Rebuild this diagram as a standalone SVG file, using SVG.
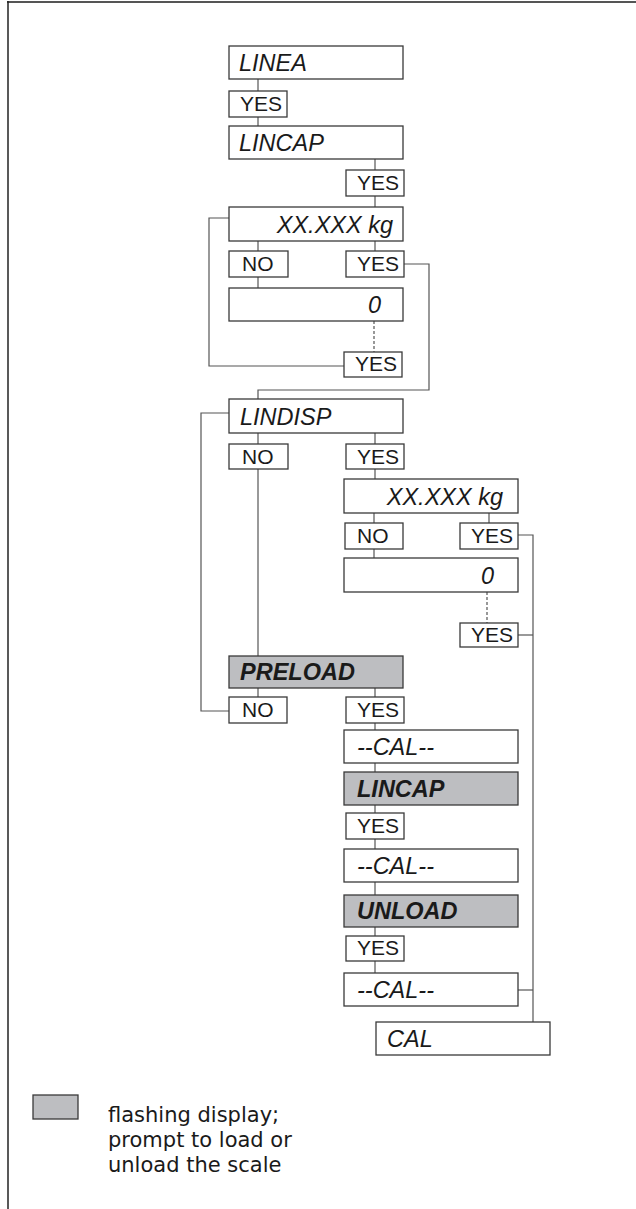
<svg xmlns="http://www.w3.org/2000/svg" width="636" height="1209" viewBox="0 0 636 1209">
<style>
.box{fill:#fff;stroke:#3a3a3a;stroke-width:1.3}
.flash{fill:#bdbec1;stroke:#3a3a3a;stroke-width:1.3}
.lbl{font-family:"Liberation Sans",Arial,sans-serif;font-style:italic;font-size:23.5px;fill:#1a1a1a}
.blbl{font-family:"Liberation Sans",Arial,sans-serif;font-style:italic;font-weight:bold;font-size:23.5px;fill:#1a1a1a}
.yn{font-family:"Liberation Sans",Arial,sans-serif;font-size:21px;fill:#1a1a1a}
.leg{font-family:"DejaVu Sans","Liberation Sans",sans-serif;font-size:21px;fill:#1a1a1a}
.c{fill:none;stroke:#555;stroke-width:1.2}
.d{fill:none;stroke:#555;stroke-width:1.2;stroke-dasharray:3 2}
</style>
<g id="frame">
<line x1="7" y1="2" x2="636" y2="2" stroke="#555" stroke-width="2"/>
<line x1="8" y1="1" x2="8" y2="1209" stroke="#222" stroke-width="1.5"/>
</g>
<g id="connectors">
<line class="c" x1="258" y1="79" x2="258" y2="91"/>
<line class="c" x1="258" y1="117" x2="258" y2="126"/>
<line class="c" x1="375" y1="159" x2="375" y2="170"/>
<line class="c" x1="375" y1="196" x2="375" y2="207"/>
<line class="c" x1="258" y1="241" x2="258" y2="251"/>
<line class="c" x1="375" y1="241" x2="375" y2="251"/>
<line class="c" x1="258" y1="277" x2="258" y2="288"/>
<line class="d" x1="374" y1="321" x2="374" y2="352"/>
<polyline class="c" points="229,218 209,218 209,366 344,366"/>
<polyline class="c" points="404,264 429,264 429,390 258,390 258,399"/>
<line class="c" x1="258" y1="433" x2="258" y2="444"/>
<line class="c" x1="375" y1="433" x2="375" y2="444"/>
<line class="c" x1="258" y1="469" x2="258" y2="656"/>
<line class="c" x1="375" y1="469" x2="375" y2="479"/>
<polyline class="c" points="229,413 201,413 201,711 229,711"/>
<line class="c" x1="374" y1="513" x2="374" y2="523"/>
<line class="c" x1="489" y1="513" x2="489" y2="523"/>
<line class="c" x1="374" y1="549" x2="374" y2="558"/>
<line class="d" x1="487" y1="592" x2="487" y2="623"/>
<polyline class="c" points="518,535 533,535 533,1022"/>
<line class="c" x1="518" y1="635" x2="533" y2="635"/>
<line class="c" x1="518" y1="990" x2="533" y2="990"/>
<line class="c" x1="258" y1="688" x2="258" y2="697"/>
<line class="c" x1="375" y1="688" x2="375" y2="697"/>
<line class="c" x1="375" y1="723" x2="375" y2="730"/>
<line class="c" x1="375" y1="763" x2="375" y2="772"/>
<line class="c" x1="375" y1="805" x2="375" y2="813"/>
<line class="c" x1="375" y1="839" x2="375" y2="849"/>
<line class="c" x1="375" y1="882" x2="375" y2="895"/>
<line class="c" x1="375" y1="927" x2="375" y2="936"/>
<line class="c" x1="375" y1="961" x2="375" y2="973"/>
</g>
<g id="n-linea"><rect class="box" x="229" y="46" width="174" height="33"/><text class="lbl" x="239" y="71">LINEA</text></g>
<g id="n-yes1"><rect class="box" x="229" y="91" width="58" height="26"/><text class="yn" x="240" y="111">YES</text></g>
<g id="n-lincap"><rect class="box" x="229" y="126" width="174" height="33"/><text class="lbl" x="239" y="151">LINCAP</text></g>
<g id="n-yes2"><rect class="box" x="346" y="170" width="58" height="26"/><text class="yn" x="357" y="190">YES</text></g>
<g id="n-kg1"><rect class="box" x="229" y="207" width="174" height="34"/><text class="lbl" x="393" y="233" text-anchor="end">XX.XXX kg</text></g>
<g id="n-no1"><rect class="box" x="229" y="251" width="59" height="26"/><text class="yn" x="242" y="271">NO</text></g>
<g id="n-yes3"><rect class="box" x="346" y="251" width="58" height="26"/><text class="yn" x="357" y="271">YES</text></g>
<g id="n-zero1"><rect class="box" x="229" y="288" width="174" height="33"/><text class="lbl" x="381" y="313" text-anchor="end">0</text></g>
<g id="n-yes4"><rect class="box" x="344" y="352" width="58" height="25"/><text class="yn" x="355" y="371">YES</text></g>
<g id="n-lindisp"><rect class="box" x="229" y="399" width="174" height="34"/><text class="lbl" x="240" y="425">LINDISP</text></g>
<g id="n-no2"><rect class="box" x="229" y="444" width="59" height="25"/><text class="yn" x="242" y="464">NO</text></g>
<g id="n-yes5"><rect class="box" x="346" y="444" width="58" height="25"/><text class="yn" x="357" y="464">YES</text></g>
<g id="n-kg2"><rect class="box" x="344" y="479" width="174" height="34"/><text class="lbl" x="503" y="505" text-anchor="end">XX.XXX kg</text></g>
<g id="n-no3"><rect class="box" x="345" y="523" width="58" height="26"/><text class="yn" x="357" y="543">NO</text></g>
<g id="n-yes6"><rect class="box" x="460" y="523" width="58" height="26"/><text class="yn" x="471" y="543">YES</text></g>
<g id="n-zero2"><rect class="box" x="344" y="558" width="174" height="34"/><text class="lbl" x="494" y="584" text-anchor="end">0</text></g>
<g id="n-yes7"><rect class="box" x="460" y="623" width="58" height="24"/><text class="yn" x="471" y="642">YES</text></g>
<g id="n-preload"><rect class="flash" x="229" y="656" width="174" height="32"/><text class="blbl" x="240" y="680">PRELOAD</text></g>
<g id="n-no4"><rect class="box" x="229" y="697" width="58" height="26"/><text class="yn" x="242" y="717">NO</text></g>
<g id="n-yes8"><rect class="box" x="346" y="697" width="58" height="26"/><text class="yn" x="357" y="717">YES</text></g>
<g id="n-cal1"><rect class="box" x="344" y="730" width="174" height="33"/><text class="lbl" x="357" y="755">--CAL--</text></g>
<g id="n-lincap2"><rect class="flash" x="344" y="772" width="174" height="33"/><text class="blbl" x="357" y="797">LINCAP</text></g>
<g id="n-yes9"><rect class="box" x="346" y="813" width="58" height="26"/><text class="yn" x="357" y="833">YES</text></g>
<g id="n-cal2"><rect class="box" x="344" y="849" width="174" height="33"/><text class="lbl" x="357" y="874">--CAL--</text></g>
<g id="n-unload"><rect class="flash" x="344" y="895" width="174" height="32"/><text class="blbl" x="357" y="919">UNLOAD</text></g>
<g id="n-yes10"><rect class="box" x="346" y="936" width="58" height="25"/><text class="yn" x="357" y="955">YES</text></g>
<g id="n-cal3"><rect class="box" x="344" y="973" width="174" height="33"/><text class="lbl" x="357" y="998">--CAL--</text></g>
<g id="n-cal"><rect class="box" x="376" y="1022" width="174" height="33"/><text class="lbl" x="387" y="1047">CAL</text></g>
<g id="legend">
<rect class="flash" x="33" y="1095" width="45" height="24"/>
<text class="leg" x="108" y="1122">flashing display;</text>
<text class="leg" x="108" y="1147">prompt to load or</text>
<text class="leg" x="108" y="1172">unload the scale</text>
</g>
</svg>
